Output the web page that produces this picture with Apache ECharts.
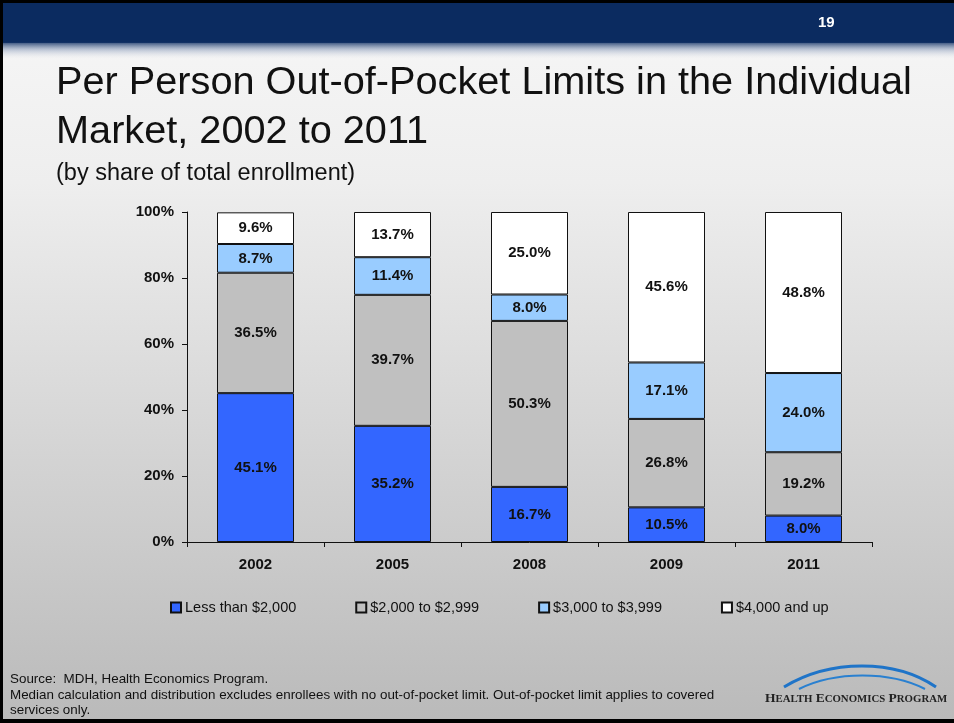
<!DOCTYPE html>
<html>
<head>
<meta charset="utf-8">
<script src="https://cdn.jsdelivr.net/npm/echarts@6/dist/echarts.min.js"></script>
<style>
  html, body { margin: 0; padding: 0; background: #000; }
  #chart { width: 954px; height: 723px; }
</style>
</head>
<body>
<div id="chart"></div>
<script>
// Survey years on the category axis
const years = ['2002', '2005', '2008', '2009', '2011'];

// Share of enrollment (%) by out-of-pocket limit band
const lessThan2000 = [45.1, 35.2, 16.7, 10.5, 8.0];
const from2000to2999 = [36.5, 39.7, 50.3, 26.8, 19.2];
const from3000to3999 = [8.7, 11.4, 8.0, 17.1, 24.0];
const from4000up = [9.6, 13.7, 25.0, 45.6, 48.8];

const seriesNames = ['Less than $2,000', '$2,000 to $2,999', '$3,000 to $3,999', '$4,000 and up'];
const seriesData = [lessThan2000, from2000to2999, from3000to3999, from4000up];
const seriesColors = ['#3366ff', '#c0c0c0', '#99ccff', '#ffffff'];

const yTicks = [0, 20, 40, 60, 80, 100];

const chart = echarts.init(document.getElementById('chart'), null, { renderer: 'canvas' });

const font = 'Arial, "Liberation Sans", Helvetica, sans-serif';

const series = seriesNames.map((name, i) => ({
  name: name,
  type: 'bar',
  stack: 'share',
  barWidth: 77,
  data: seriesData[i],
  itemStyle: { color: seriesColors[i], borderColor: '#111', borderWidth: 1 },
  label: {
    show: true,
    position: 'inside',
    formatter: p => p.value.toFixed(1) + '%',
    color: '#111',
    fontFamily: font,
    fontWeight: 'bold',
    fontSize: 15
  },
  emphasis: { disabled: true }
}));

const option = {
  animation: false,
  backgroundColor: '#000',
  graphic: [
    // slide background
    {
      type: 'rect', z: -10, silent: true,
      shape: { x: 3, y: 3, width: 951, height: 716 },
      style: {
        fill: new echarts.graphic.LinearGradient(0, 0, 0, 1, [
          { offset: 0, color: '#f7f7f7' },
          { offset: 0.25, color: '#eeeeee' },
          { offset: 0.7, color: '#cfcfcf' },
          { offset: 1, color: '#bababa' }
        ])
      }
    },
    // header band
    {
      type: 'rect', z: -9, silent: true,
      shape: { x: 3, y: 3, width: 951, height: 40 },
      style: { fill: '#0b2b60' }
    },
    {
      type: 'rect', z: -9, silent: true,
      shape: { x: 3, y: 42, width: 951, height: 18 },
      style: {
        fill: new echarts.graphic.LinearGradient(0, 0, 0, 1, [
          { offset: 0, color: 'rgba(11,43,96,0.85)' },
          { offset: 0.4, color: 'rgba(120,140,175,0.5)' },
          { offset: 1, color: 'rgba(247,247,247,0)' }
        ])
      }
    },
    {
      type: 'text', silent: true,
      left: 818, top: 15,
      style: { text: '19', fill: '#ffffff', font: 'bold 15px ' + font }
    },
    // title block
    {
      type: 'text', silent: true,
      left: 56, top: 59,
      style: {
        text: 'Per Person Out-of-Pocket Limits in the Individual\nMarket, 2002 to 2011',
        fill: '#111', font: '39.7px ' + font, lineHeight: 49
      }
    },
    {
      type: 'text', silent: true,
      left: 56, top: 162,
      style: { text: '(by share of total enrollment)', fill: '#111', font: '23.5px ' + font }
    },
    // footnotes
    {
      type: 'text', silent: true,
      left: 10, top: 672,
      style: {
        text: 'Source:  MDH, Health Economics Program.\nMedian calculation and distribution excludes enrollees with no out-of-pocket limit. Out-of-pocket limit applies to covered\nservices only.',
        fill: '#111', font: '13.4px ' + font, lineHeight: 15.5
      }
    },
    // program logo: arcs and wordmark
    {
      type: 'bezierCurve', silent: true,
      shape: { x1: 784, y1: 687, x2: 936, y2: 687, cpx1: 830, cpy1: 659, cpx2: 895, cpy2: 659 },
      style: { stroke: '#1f74c8', lineWidth: 3, fill: null }
    },
    {
      type: 'bezierCurve', silent: true,
      shape: { x1: 799, y1: 689, x2: 925, y2: 689, cpx1: 835, cpy1: 671, cpx2: 890, cpy2: 671 },
      style: { stroke: '#2a80d0', lineWidth: 2, fill: null }
    },
    {
      type: 'text', silent: true,
      left: 765, top: 692,
      style: {
        text: '{b|H}{s|EALTH} {b|E}{s|CONOMICS} {b|P}{s|ROGRAM}',
        rich: {
          b: { font: 'bold 13.5px "Liberation Serif", "Times New Roman", serif', fill: '#222' },
          s: { font: 'bold 10.8px "Liberation Serif", "Times New Roman", serif', fill: '#222' }
        }
      }
    }
  ],
  legend: {
    data: seriesNames,
    left: 165, top: 595,
    itemWidth: 10, itemHeight: 10, itemGap: 59,
    icon: 'rect',
    textStyle: { fontFamily: font, fontSize: 14.5, color: '#111', padding: [0, 0, 0, -1] },
    selectedMode: false
  },
  grid: { left: 187, top: 212, width: 685, height: 330, containLabel: false },
  xAxis: {
    type: 'category',
    data: years,
    axisLine: { lineStyle: { color: '#111', width: 1 } },
    axisTick: { show: true, length: 5, lineStyle: { color: '#111' } },
    axisLabel: { color: '#111', fontFamily: font, fontWeight: 'bold', fontSize: 15, margin: 15 }
  },
  yAxis: {
    type: 'value',
    min: yTicks[0], max: yTicks[yTicks.length - 1], interval: 20,
    splitLine: { show: false },
    axisLine: { show: true, lineStyle: { color: '#111', width: 1 } },
    axisTick: { show: true, length: 5, lineStyle: { color: '#111' } },
    axisLabel: { color: '#111', fontFamily: font, fontWeight: 'bold', fontSize: 15, margin: 13, formatter: '{value}%' }
  },
  series: series
};

chart.setOption(option);
</script>
</body>
</html>
